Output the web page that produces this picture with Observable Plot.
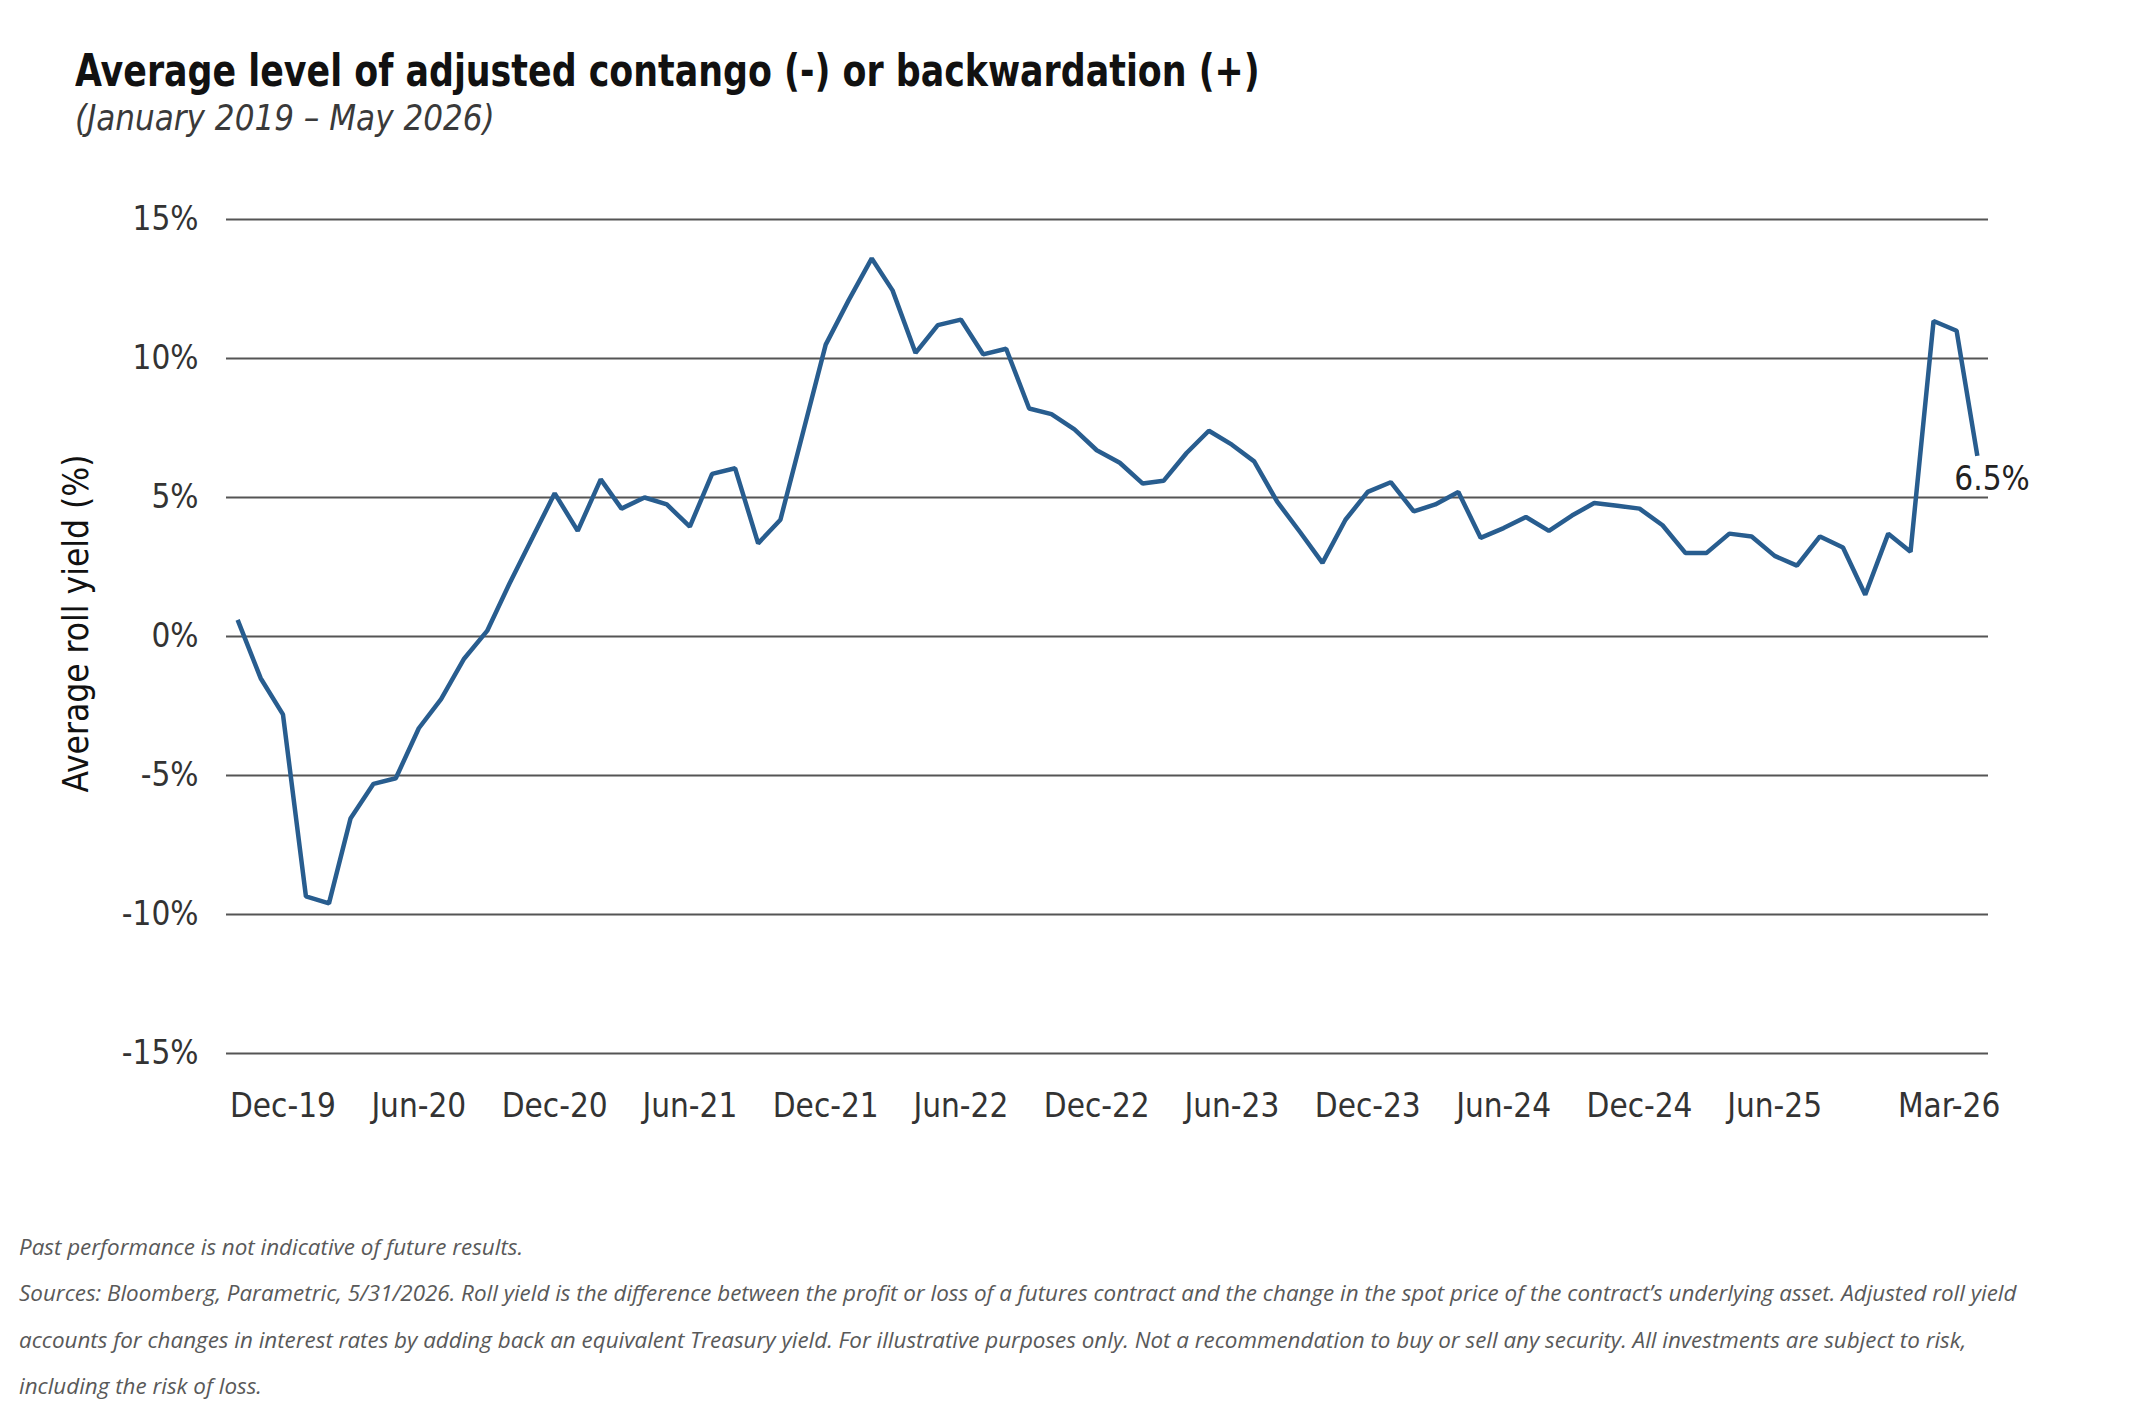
<!DOCTYPE html>
<html>
<head>
<meta charset="utf-8">
<script src="https://cdn.jsdelivr.net/npm/d3@7"></script>
<script src="https://cdn.jsdelivr.net/npm/@observablehq/plot@0.6"></script>
<style>
  html, body { margin: 0; padding: 0; background: #fff; }
  #page {
    position: relative; width: 2134px; height: 1414px; overflow: hidden;
    font-family: "DejaVu Sans Condensed", "Liberation Sans Narrow", "Liberation Sans", sans-serif;
  }
  #title {
    position: absolute; left: 75px; top: 49px; white-space: nowrap;
    font-size: 44px; line-height: 1; font-weight: bold; color: #111;
    transform: scaleX(0.88); transform-origin: 0 0;
  }
  #subtitle {
    position: absolute; left: 75px; top: 100px; white-space: nowrap;
    font-size: 36px; line-height: 1; font-style: italic; color: #3a3a3a;
    transform: scaleX(0.96); transform-origin: 0 0;
  }
  #chart { position: absolute; left: 0; top: 150px; }
  #notes {
    position: absolute; left: 19px; top: 1224px;
    font-family: "Open Sans", "Noto Sans", sans-serif; font-style: italic;
    font-size: 22.4px; line-height: 46.3px; color: #595959; white-space: nowrap;
  }
</style>
</head>
<body>
<div id="page">
  <div id="title"></div>
  <div id="subtitle"></div>
  <div id="chart"></div>
  <div id="notes"></div>
</div>
<script>
// Average adjusted roll yield (%), monthly, starting October 2019
const firstMonth = "2019-10";
const rollYield = [
   0.6, -1.5, -2.8, -9.35, -9.6, -6.55, -5.3, -5.1, -3.3, -2.25, -0.8, 0.2,
   1.9,  3.55, 5.15, 3.8,  5.65, 4.6,  5.0,  4.75, 3.95, 5.85, 6.05, 3.35,
   4.2,  7.4, 10.5, 12.1, 13.6, 12.45, 10.2, 11.2, 11.4, 10.15, 10.35, 8.2,
   8.0,  7.45, 6.7,  6.25, 5.5,  5.6,  6.6,  7.4,  6.9,  6.3,  4.85, 3.75,
   2.65, 4.2,  5.2,  5.55, 4.5,  4.75, 5.2,  3.55, 3.9,  4.3,  3.8,  4.35,
   4.8,  4.7,  4.6,  4.0,  3.0,  3.0,  3.7,  3.6,  2.9,  2.55, 3.6,  3.2,
   1.5,  3.7,  3.05, 11.35, 11.0, 6.5
];

// Axis labels
const xTickLabels = ["Dec-19", "Jun-20", "Dec-20", "Jun-21", "Dec-21", "Jun-22", "Dec-22",
                     "Jun-23", "Dec-23", "Jun-24", "Dec-24", "Jun-25", "Mar-26"];
const yTicks = [-15, -10, -5, 0, 5, 10, 15];
const yLabel = "Average roll yield (%)";

// Text
const title = "Average level of adjusted contango (-) or backwardation (+)";
const subtitle = "(January 2019 \u2013 May 2026)";
const notes = [
  "Past performance is not indicative of future results.",
  "Sources: Bloomberg, Parametric, 5/31/2026. Roll yield is the difference between the profit or loss of a futures contract and the change in the spot price of the contract\u2019s underlying asset. Adjusted roll yield",
  "accounts for changes in interest rates by adding back an equivalent Treasury yield. For illustrative purposes only. Not a recommendation to buy or sell any security. All investments are subject to risk,",
  "including the risk of loss."
];

document.getElementById("title").textContent = title;
document.getElementById("subtitle").textContent = subtitle;
const notesEl = document.getElementById("notes");
for (const line of notes) {
  const div = document.createElement("div");
  div.textContent = line;
  notesEl.appendChild(div);
}

const start = d3.utcParse("%Y-%m")(firstMonth);
const series = rollYield.map((value, i) => ({date: d3.utcMonth.offset(start, i), value}));
const parseTick = d3.utcParse("%b-%y");
const tickDates = xTickLabels.map(parseTick);
const fmtMonth = d3.utcFormat("%b-%y");
const lastPoint = series[series.length - 1];

const lineColor = "#285d8f";
const gridColor = "#555555";
const labelFont = "'DejaVu Sans Condensed', 'Liberation Sans Narrow', 'Liberation Sans', sans-serif";

const chart = Plot.plot({
  width: 2134,
  height: 1060,
  marginLeft: 226,
  marginRight: 146,
  marginTop: 69,
  marginBottom: 157,
  style: {fontFamily: labelFont, fontSize: "33px", color: "#333", background: "transparent", overflow: "visible"},
  x: {type: "utc", domain: [d3.utcDay.offset(series[0].date, -15), d3.utcDay.offset(lastPoint.date, 15)]},
  y: {domain: [-15, 15]},
  marks: [
    Plot.gridY(yTicks, {stroke: gridColor, strokeOpacity: 1, strokeWidth: 2}),
    Plot.axisY(yTicks, {tickSize: 0, tickPadding: 28, tickFormat: d => d + "%", label: null}),
    Plot.axisX(tickDates.slice(0, -1), {tickSize: 0, tickPadding: 40, tickFormat: fmtMonth, label: null}),
    // the final month label is pulled inward so it stays within the frame
    Plot.text(tickDates.slice(-1), {
      x: d => d, text: fmtMonth, frameAnchor: "bottom", lineAnchor: "top",
      textAnchor: "end", dx: 23, dy: 40, fontSize: 33, fill: "#333"
    }),
    Plot.text([yLabel], {
      text: d => d, frameAnchor: "left", textAnchor: "middle", rotate: -90,
      dx: -150, dy: -13, fontSize: 35, fill: "#111"
    }),
    Plot.line(series, {
      x: "date", y: "value", stroke: lineColor, strokeWidth: 4.5,
      strokeLinejoin: "miter", strokeLinecap: "butt"
    }),
    Plot.text([lastPoint], {
      x: "date", y: "value", text: d => d.value.toFixed(1) + "%",
      textAnchor: "start", dx: -23, dy: 24, fontSize: 33, fill: "#222"
    })
  ]
});

document.getElementById("chart").appendChild(chart);
</script>
</body>
</html>
